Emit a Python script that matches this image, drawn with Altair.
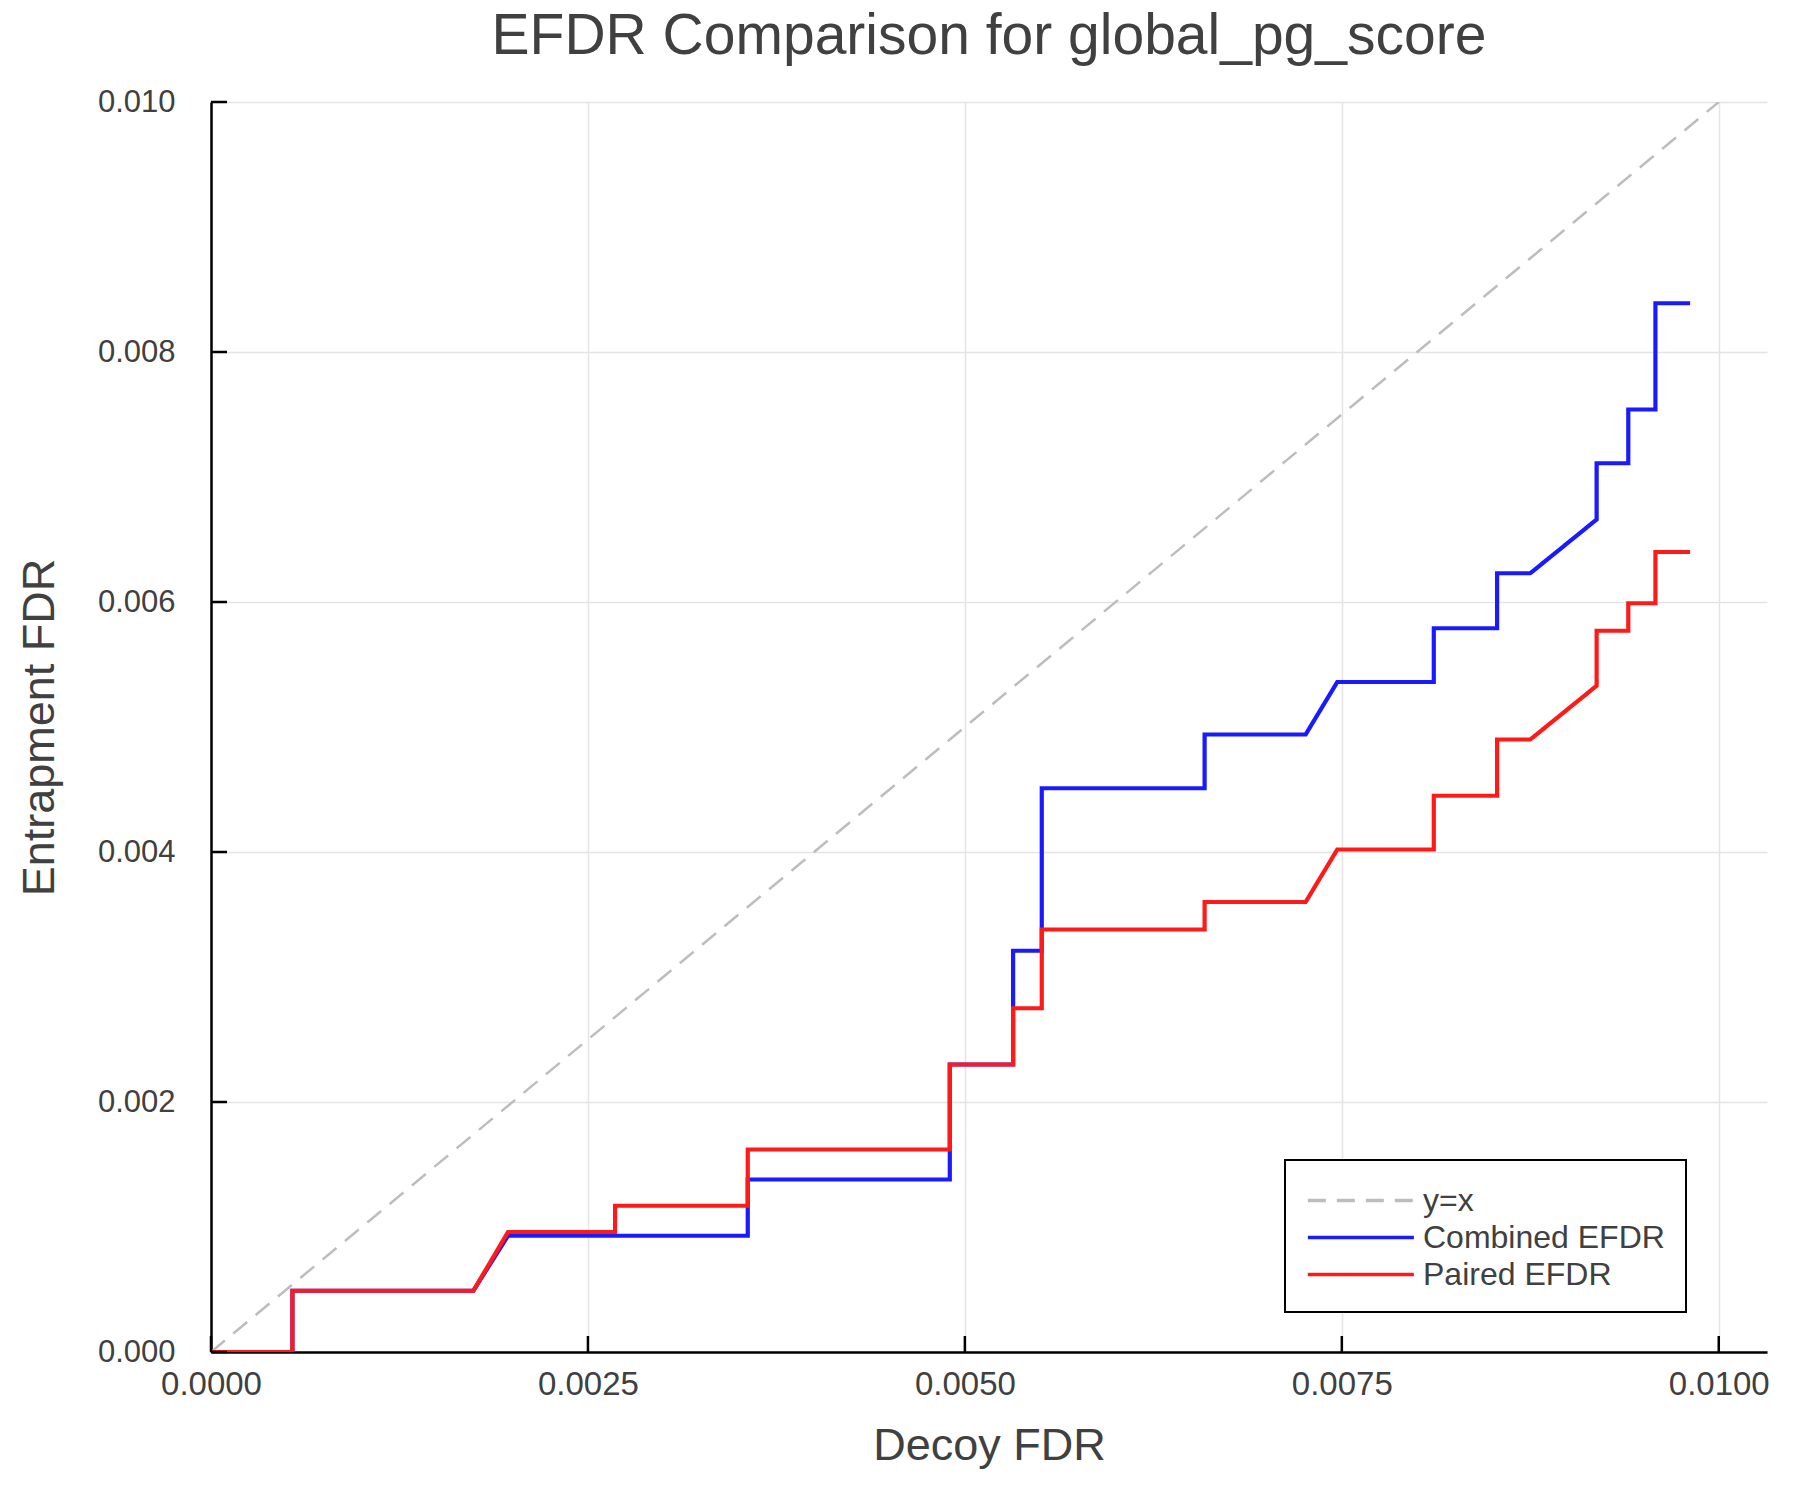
import altair as alt
import pandas as pd

# Step curves (decoy FDR -> entrapment FDR)
combined_x = [0.0, 0.00054, 0.00054, 0.00174, 0.00197, 0.00356, 0.00356, 0.0049, 0.0049,
              0.00532, 0.00532, 0.00551, 0.00551, 0.00659, 0.00659, 0.00726, 0.00747,
              0.00811, 0.00811, 0.00853, 0.00853, 0.00875, 0.00919, 0.00919, 0.0094,
              0.0094, 0.00958, 0.00958, 0.00981]
combined_y = [0.0, 0.0, 0.00049, 0.00049, 0.00093, 0.00093, 0.00138, 0.00138, 0.0023,
              0.0023, 0.00321, 0.00321, 0.00451, 0.00451, 0.00494, 0.00494, 0.00536,
              0.00536, 0.00579, 0.00579, 0.00623, 0.00623, 0.00666, 0.00711, 0.00711,
              0.00754, 0.00754, 0.00839, 0.00839]
paired_x = [0.0, 0.00054, 0.00054, 0.00174, 0.00197, 0.00268, 0.00268, 0.00356, 0.00356,
            0.0049, 0.0049, 0.00532, 0.00532, 0.00551, 0.00551, 0.00659, 0.00659,
            0.00726, 0.00747, 0.00811, 0.00811, 0.00853, 0.00853, 0.00875, 0.00919,
            0.00919, 0.0094, 0.0094, 0.00958, 0.00958, 0.00981]
paired_y = [0.0, 0.0, 0.00049, 0.00049, 0.00096, 0.00096, 0.00117, 0.00117, 0.00162,
            0.00162, 0.0023, 0.0023, 0.00275, 0.00275, 0.00338, 0.00338, 0.0036,
            0.0036, 0.00402, 0.00402, 0.00445, 0.00445, 0.0049, 0.0049, 0.00533,
            0.00577, 0.00577, 0.00599, 0.00599, 0.0064, 0.0064]
diag_x = [0.0, 0.01]
diag_y = [0.0, 0.01]

series_names = ["y=x", "Combined EFDR", "Paired EFDR"]
series_colors = ["#bdbdbd", "#1a1aff", "#ff1a1a"]
series_dash = [[18, 11], [1, 0], [1, 0]]

x_ticks = [0.0, 0.0025, 0.005, 0.0075, 0.01]
y_ticks = [0.0, 0.002, 0.004, 0.006, 0.008, 0.010]

W, H = 1556, 1250
FONT = "Liberation Sans"
TEXT = "#404040"


def make_frame(name, xs, ys):
    return pd.DataFrame({"decoy": xs, "entrap": ys, "series": name,
                         "step": list(range(len(xs)))})


data = pd.concat([make_frame("y=x", diag_x, diag_y),
                  make_frame("Combined EFDR", combined_x, combined_y),
                  make_frame("Paired EFDR", paired_x, paired_y)], ignore_index=True)

# long line swatch: path runs from the left edge of the symbol box to 5x its half-size
legend = alt.Legend(title=None, orient="none", legendX=1074, legendY=1058,
                    symbolType="M-1,0H5", symbolSize=1250, symbolStrokeWidth=3.5,
                    labelFontSize=32, labelFont=FONT, labelColor=TEXT, labelOffset=78,
                    labelLimit=500, rowPadding=1,
                    strokeColor="black", fillColor="white", padding=21)

base = alt.Chart(data).encode(
    x=alt.X("decoy:Q", scale=alt.Scale(domain=[0, 0.01032], nice=False, zero=False),
            axis=alt.Axis(values=x_ticks, format=".4f", title="Decoy FDR",
                          labelFlush=False, labelPadding=16, labelFontSize=33,
                          titlePadding=22)),
    y=alt.Y("entrap:Q", scale=alt.Scale(domain=[0, 0.01], nice=False),
            axis=alt.Axis(values=y_ticks, format=".3f", title="Entrapment FDR",
                          labelPadding=36, titlePadding=35)),
    color=alt.Color("series:N", scale=alt.Scale(domain=series_names, range=series_colors),
                    legend=legend),
    strokeDash=alt.StrokeDash("series:N", scale=alt.Scale(domain=series_names, range=series_dash),
                              legend=legend),
    order="step:Q",
)

diag = base.transform_filter(alt.datum.series == "y=x").mark_line(strokeWidth=2.5, clip=True)
comb = base.transform_filter(alt.datum.series == "Combined EFDR").mark_line(strokeWidth=4.2, clip=True)
pair = base.transform_filter(alt.datum.series == "Paired EFDR").mark_line(strokeWidth=4.2, clip=True)

# inward tick marks like the original plot
xtick = alt.Chart(pd.DataFrame({"decoy": x_ticks})).mark_rule(color="black", strokeWidth=2.5).encode(
    x="decoy:Q", y=alt.value(H), y2=alt.value(H - 16))
ytick = alt.Chart(pd.DataFrame({"entrap": y_ticks})).mark_rule(color="black", strokeWidth=2.5).encode(
    y="entrap:Q", x=alt.value(0), x2=alt.value(16))

chart = alt.layer(diag, comb, pair, xtick, ytick).properties(
    width=W, height=H,
    title=alt.TitleParams("EFDR Comparison for global_pg_score", fontSize=57, font=FONT,
                          color=TEXT, fontWeight="normal", offset=20),
    autosize=alt.AutoSizeParams(type="none"),
    padding={"left": 203, "top": 94, "right": 25, "bottom": 140},
).configure_view(
    strokeWidth=0
).configure_axis(
    labelFont=FONT, labelFontSize=31, labelColor=TEXT,
    titleFont=FONT, titleFontSize=45, titleColor=TEXT, titleFontWeight="normal",
    domainColor="black", domainWidth=2.5, ticks=False, tickSize=0,
    gridColor="#e4e4e4", gridWidth=1.5,
).configure_legend(
    strokeWidth=2
)

chart.save("out.html", embed_options={"renderer": "svg", "actions": False})
